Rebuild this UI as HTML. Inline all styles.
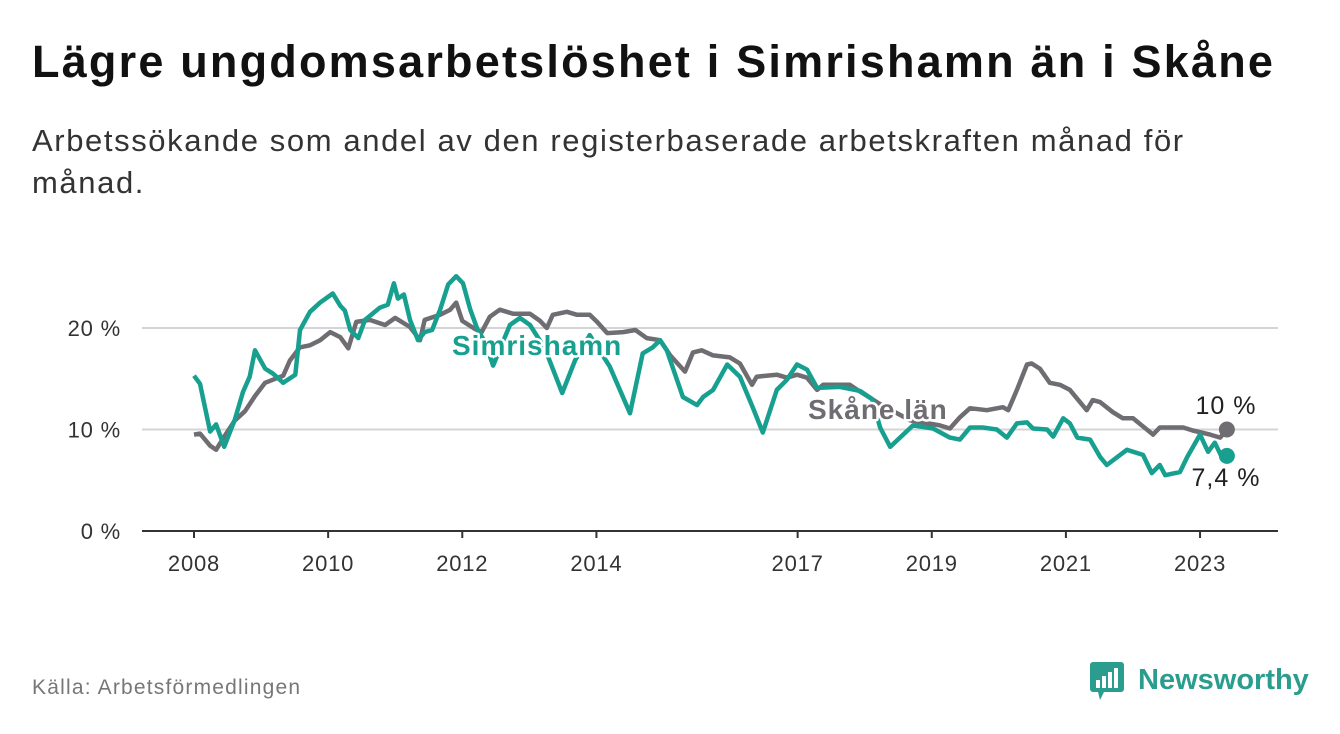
<!DOCTYPE html>
<html><head><meta charset="utf-8"><style>
body{margin:0;width:1340px;height:734px;background:#fff;font-family:"Liberation Sans",sans-serif;overflow:hidden;position:relative}
h1{position:absolute;left:32px;top:36px;margin:0;font-size:45px;font-weight:bold;color:#111;letter-spacing:2.2px;white-space:nowrap}
.sub{position:absolute;left:32px;top:120px;width:1230px;font-size:31px;line-height:42px;color:#333;letter-spacing:1.6px}
.src{position:absolute;left:32px;top:676px;font-size:21px;color:#777;letter-spacing:1.2px}
svg{position:absolute;left:0;top:0}
</style></head><body>
<h1>Lägre ungdomsarbetslöshet i Simrishamn än i Skåne</h1>
<div class="sub">Arbetssökande som andel av den registerbaserade arbetskraften månad för<br>månad.</div>
<div class="src">Källa: Arbetsförmedlingen</div>
<svg width="1340" height="734" id="chart">
<g id="grid"></g><g id="lines"></g><g id="labels"></g>
<g>
<rect x="1090" y="662" width="34" height="30" rx="3" fill="#2a9d8f"/>
<polygon points="1098,692 1104,692 1100,700" fill="#2a9d8f"/>
<rect x="1096" y="680" width="4" height="8" fill="#fff"/><rect x="1102" y="676" width="4" height="12" fill="#fff"/><rect x="1108" y="672" width="4" height="16" fill="#fff"/><rect x="1114" y="668" width="4" height="20" fill="#fff"/>
<text x="1138" y="689" font-size="29" font-weight="bold" fill="#2a9d8f" font-family="Liberation Sans, sans-serif">Newsworthy</text>
</g>
</svg>
<script>
const yTicks=[0,10,20];
const xTickYears=[2008,2010,2012,2014,2017,2019,2021,2023];
const simDates=[2008.00,2008.09,2008.24,2008.33,2008.45,2008.61,2008.73,2008.83,2008.91,2009.06,2009.18,2009.33,2009.51,2009.58,2009.73,2009.88,2010.07,2010.18,2010.25,2010.33,2010.45,2010.55,2010.77,2010.89,2010.98,2011.04,2011.13,2011.22,2011.34,2011.44,2011.55,2011.67,2011.79,2011.91,2012.01,2012.12,2012.23,2012.34,2012.46,2012.71,2012.86,2013.01,2013.23,2013.49,2013.68,2013.90,2014.20,2014.50,2014.69,2014.84,2014.95,2015.05,2015.29,2015.50,2015.59,2015.74,2015.95,2016.14,2016.33,2016.48,2016.69,2016.84,2016.99,2017.14,2017.29,2017.63,2017.93,2018.11,2018.23,2018.38,2018.72,2019.02,2019.27,2019.42,2019.57,2019.76,2019.97,2020.12,2020.27,2020.42,2020.51,2020.72,2020.81,2020.96,2021.06,2021.17,2021.36,2021.51,2021.61,2021.91,2022.15,2022.28,2022.40,2022.48,2022.70,2022.81,2023.00,2023.12,2023.22,2023.33,2023.40];
const simValues=[15.3,14.5,9.8,10.5,8.3,11.0,13.7,15.2,17.8,16.0,15.5,14.6,15.4,19.8,21.6,22.5,23.4,22.2,21.7,19.8,19.0,20.8,22.0,22.3,24.4,22.9,23.3,20.8,18.8,19.6,19.8,21.8,24.3,25.1,24.4,21.8,19.8,18.6,16.3,20.3,21.0,20.3,18.0,13.6,16.8,19.3,16.2,11.6,17.5,18.1,18.8,17.8,13.2,12.4,13.2,13.9,16.4,15.2,12.2,9.7,13.9,14.9,16.4,15.9,14.1,14.2,13.8,13.0,10.2,8.3,10.4,10.1,9.2,9.0,10.2,10.2,10.0,9.2,10.6,10.7,10.1,10.0,9.3,11.1,10.6,9.2,9.0,7.3,6.5,8.0,7.5,5.7,6.5,5.5,5.8,7.3,9.5,7.8,8.7,7.2,7.4];
const skDates=[2008.00,2008.09,2008.24,2008.33,2008.46,2008.61,2008.76,2008.91,2009.06,2009.21,2009.33,2009.43,2009.58,2009.73,2009.88,2010.03,2010.18,2010.30,2010.42,2010.62,2010.85,2011.00,2011.22,2011.37,2011.44,2011.67,2011.82,2011.91,2012.00,2012.19,2012.29,2012.41,2012.56,2012.76,2013.01,2013.16,2013.26,2013.35,2013.56,2013.71,2013.90,2014.01,2014.16,2014.40,2014.58,2014.75,2014.95,2015.10,2015.32,2015.44,2015.57,2015.74,2015.99,2016.14,2016.32,2016.39,2016.69,2016.84,2016.99,2017.14,2017.29,2017.38,2017.78,2017.89,2018.23,2018.68,2019.12,2019.27,2019.42,2019.57,2019.82,2020.06,2020.14,2020.27,2020.42,2020.49,2020.61,2020.76,2020.91,2021.06,2021.31,2021.40,2021.51,2021.70,2021.85,2022.00,2022.30,2022.40,2022.75,2022.89,2023.15,2023.30,2023.40];
const skValues=[9.5,9.6,8.4,8.0,9.4,10.9,11.8,13.3,14.6,15.0,15.3,16.8,18.1,18.3,18.8,19.6,19.1,18.0,20.6,20.8,20.3,21.0,20.1,18.8,20.8,21.3,21.8,22.5,20.7,19.9,19.6,21.1,21.8,21.4,21.4,20.7,20.0,21.3,21.6,21.3,21.3,20.6,19.5,19.6,19.8,19.0,18.8,17.3,15.7,17.6,17.8,17.3,17.1,16.5,14.4,15.2,15.4,15.1,15.4,15.1,13.9,14.4,14.4,13.9,12.5,10.9,10.4,10.1,11.2,12.1,11.9,12.2,11.9,13.9,16.4,16.5,16.0,14.6,14.4,13.9,11.9,12.9,12.7,11.7,11.1,11.1,9.5,10.2,10.2,9.9,9.5,9.2,10.0];
const NS='http://www.w3.org/2000/svg';
const X=y=>194+(y-2008)*67.07;
const Y=v=>531-v*10.15;
function mk(t,a,p){const e=document.createElementNS(NS,t);for(const k in a)e.setAttribute(k,a[k]);p.appendChild(e);return e;}
const grid=document.getElementById('grid'),lines=document.getElementById('lines'),labels=document.getElementById('labels');
yTicks.forEach(v=>{
 const l=mk('line',{x1:142,x2:1278,y1:Y(v),y2:Y(v),stroke:v?'#d4d4d4':'#333','stroke-width':2},grid);
 
 
 const t=mk('text',{x:121,y:Y(v)+8,'text-anchor':'end','font-size':22,fill:'#333','letter-spacing':0.8},grid);t.textContent=v+' %';
 
 
});
xTickYears.forEach(yr=>{
 const l=mk('line',{x1:X(yr),x2:X(yr),y1:531,y2:538,stroke:'#333','stroke-width':2},grid);
 
 
 const t=mk('text',{x:X(yr),y:571,'text-anchor':'middle','font-size':22,fill:'#333','letter-spacing':0.8},grid);t.textContent=yr;
 
 
});
function path(d,v){return d.map((x,i)=>(i?'L':'M')+X(x).toFixed(1)+','+Y(v[i]).toFixed(1)).join('');}
const gp=mk('path',{d:path(skDates,skValues),fill:'none',stroke:'#6f6d72','stroke-width':4.5,'stroke-linejoin':'round'},lines);


const tp=mk('path',{d:path(simDates,simValues),fill:'none',stroke:'#17a090','stroke-width':4.5,'stroke-linejoin':'round'},lines);


const ls=skDates.length-1,lt=simDates.length-1;
const d1=mk('circle',{cx:X(skDates[ls]),cy:Y(skValues[ls]),r:8,fill:'#6f6d72'},lines);


const d2=mk('circle',{cx:X(simDates[lt]),cy:Y(simValues[lt]),r:8,fill:'#17a090'},lines);


function lab(txt,x,y,fill,bold,name,anchor,fs){
 const t=mk('text',{x:x,y:y,'font-size':fs,'font-weight':bold?'bold':'normal',fill:fill,stroke:'#fff','stroke-width':5,'paint-order':'stroke','text-anchor':anchor||'start','stroke-linejoin':'round','letter-spacing':1},labels);
 t.textContent=txt;
 
 
}
lab('Simrishamn',452,355,'#17a090',true,'simrishamn-label','start',28);
lab('Skåne län',808,419,'#6f6d72',true,'skane-label','start',28);
lab(skValues[ls].toFixed(0)+' %',1226,414,'#222',false,'skane-end-value','middle',25);
lab(String(simValues[lt]).replace('.',',')+' %',1226,486,'#222',false,'simrishamn-end-value','middle',25);
</script>
</body></html>
